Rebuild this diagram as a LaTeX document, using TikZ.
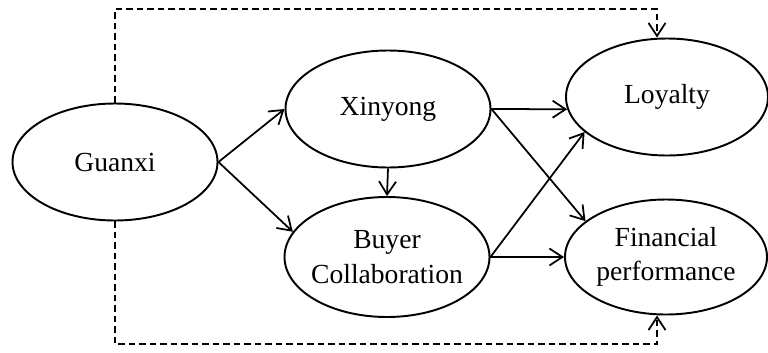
\documentclass[tikz,border=0pt]{standalone}
\usepackage{fontspec}
\setmainfont{Liberation Serif}
\usetikzlibrary{arrows.meta,shapes.geometric,calc}

\begin{document}
\begin{tikzpicture}[font=\fontsize{15.7}{19.5}\selectfont, >={Straight Barb[length=2.6mm,width=3.4mm]},
  construct/.style={draw, ellipse, line width=1.1pt, align=center, minimum width=4.1cm, minimum height=2.34cm, inner sep=1pt},
  arr/.style={->, line width=1pt},
  dsh/.style={->, line width=1pt, dash pattern=on 1.3mm off 0.8mm}]
  \useasboundingbox (0,0) rectangle (15.36,-7.04);
  \node[construct] (guanxi)    at (2.30,-3.24)  {Guanxi};
  \node[construct] (xinyong)   at (7.76,-2.18)  {Xinyong};
  \node[construct, minimum height=2.4cm, inner xsep=-5pt] (buyer) at (7.74,-5.14) {Buyer\\Collaboration};
  \node[construct, minimum width=4.04cm] (loyalty)   at (13.34,-1.94) {Loyalty};
  \node[construct, minimum width=4.04cm, minimum height=2.3cm, inner xsep=-5pt] (financial) at (13.32,-5.14) {Financial\\performance};
  \coordinate (topR) at (13.14,-0.18);
  \coordinate (botR) at (13.14,-6.88);
  \draw[arr] (guanxi.east) -- (xinyong.west);
  \draw[arr] (guanxi.east) -- (buyer.165);
  \draw[arr] (xinyong.south) -- (buyer.north);
  \draw[arr] (xinyong.east) -- (loyalty.187);
  \draw[arr] (xinyong.east) -- (financial.156);
  \draw[arr] (buyer.east) -- (loyalty.203);
  \draw[arr] (buyer.east) -- (financial.west);
  \draw[dsh] (guanxi.north) |- (topR) -- (loyalty.north -| topR);
  \draw[dsh] (guanxi.south) |- (botR) -- (financial.south -| botR);
\end{tikzpicture}
\end{document}
